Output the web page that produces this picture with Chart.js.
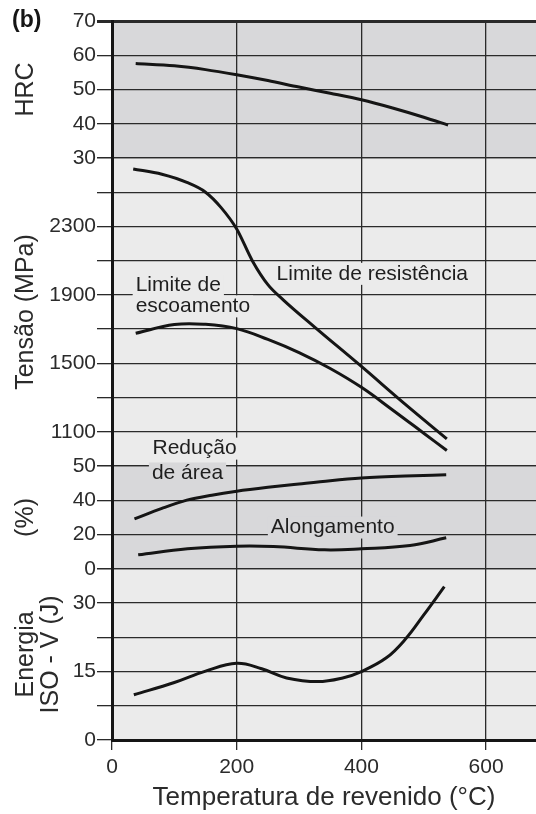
<!DOCTYPE html>
<html>
<head>
<meta charset="utf-8">
<script src="https://cdn.jsdelivr.net/npm/chart.js@4.4.1/dist/chart.umd.min.js"></script>
<style>
    html, body { margin: 0; padding: 0; background: #fff; }
    #chart { display: block; }
</style>
</head>
<body>
<canvas id="chart" width="536" height="814"></canvas>
<script>
// Temperatura de revenido (°C) per curve, and the read values
const hrcTemp = [38, 100, 150, 200, 250, 300, 350, 400, 450, 500, 539];
const hrcValues = [57.6, 56.9, 55.8, 54.3, 52.6, 50.7, 48.9, 47.0, 44.6, 41.9, 39.6];

const utsTemp = [34, 80, 120, 150, 175, 200, 225, 250, 275, 325, 400, 470, 537];
const utsValues = [2636, 2605, 2557, 2500, 2410, 2285, 2100, 1960, 1870, 1712, 1482, 1262, 1059];

const ysTemp = [38, 100, 150, 200, 250, 300, 350, 400, 450, 500, 537];
const ysValues = [1676, 1727, 1728, 1703, 1640, 1563, 1470, 1360, 1228, 1092, 991];

const raTemp = [36, 80, 120, 160, 200, 250, 300, 350, 400, 470, 536];
const raValues = [29.2, 35.3, 40.1, 43.0, 45.3, 47.6, 49.6, 51.5, 53.0, 54.2, 54.9];

const elTemp = [42, 121, 200, 259, 341, 400, 478, 536];
const elValues = [8.2, 11.7, 13.2, 13.0, 11.1, 11.7, 13.6, 18.1];

const energyTemp = [35, 100, 150, 200, 240, 280, 330, 370, 400, 440, 470, 500, 533];
const energyValues = [9.9, 12.6, 15.1, 16.8, 15.6, 13.6, 12.8, 13.6, 15.0, 18.0, 22.0, 27.4, 33.6];

// tick labels shown on each panel
const hrcTicks = [30, 40, 50, 60, 70];
const tensionTicks = [1100, 1500, 1900, 2300];
const pctTickLabels = ["0", "20", "40", "50"];
const energyTicks = [0, 15, 30];

const notes = [
    { text: "Limite de resistência", x: 264, y: 2023, axis: "yTension" },
    { text: "Limite de", x: 38, y: 1954, axis: "yTension" },
    { text: "escoamento", x: 38, y: 1833, axis: "yTension" },
    { text: "Redução", x: 65, y: 1002, axis: "yTension" },
    { text: "de área", x: 64, y: 55.7, axis: "yPct" },
    { text: "Alongamento", x: 354, y: 24.1, axis: "yPct", center: true }
];

const FONT = "'Liberation Sans', Arial, Helvetica, sans-serif";
const INK = "#151515";
const GRID = "#2a2a2a";
const panelFill = { yHrc: "#d8d8da", yTension: "#ebebeb", yPct: "#d8d8da", yEnergy: "#ebebeb" };

Chart.defaults.font.family = FONT;
Chart.defaults.color = "#2b2b2b";

const points = (xs, ys) => xs.map((x, i) => ({ x, y: ys[i] }));

function curve(data, axis, monotone) {
    return {
        data,
        yAxisID: axis,
        borderColor: INK,
        borderWidth: 3,
        pointRadius: 0,
        fill: false,
        tension: 0.4,
        cubicInterpolationMode: monotone ? "monotone" : "default"
    };
}

function axisTitle(text) {
    return {
        display: true,
        text,
        font: { size: 25, lineHeight: 1 },
        color: "#2b2b2b",
        padding: { top: 14, bottom: 0 }
    };
}

function panelAxis(opts) {
    return Object.assign({
        type: "linear",
        position: "left",
        stack: "panels",
        offset: false,
        afterFit: s => { s.width = 112; },
        border: { display: true, color: INK, width: 3 },
        grid: { color: GRID, lineWidth: 1.3, tickLength: 15, drawTicks: true }
    }, opts);
}

const paperPlugin = {
    id: "paper",
    beforeDraw(chart) {
        const { ctx, chartArea } = chart;
        ctx.save();
        ctx.fillStyle = "#fff";
        ctx.fillRect(0, 0, chart.width, chart.height);
        Object.keys(panelFill).forEach(id => {
            const s = chart.scales[id];
            ctx.fillStyle = panelFill[id];
            ctx.fillRect(chartArea.left, s.top, chartArea.right - chartArea.left, s.bottom - s.top);
        });
        ctx.fillStyle = INK;
        ctx.font = "bold 23px " + FONT;
        ctx.textBaseline = "middle";
        ctx.fillText("(b)", 12, 21);
        ctx.restore();
    },
    beforeDatasetsDraw(chart) {
        const { ctx, scales } = chart;
        ctx.save();
        ctx.font = "21px " + FONT;
        ctx.textBaseline = "middle";
        notes.forEach(n => {
            const px = scales.x.getPixelForValue(n.x);
            const py = scales[n.axis].getPixelForValue(n.y);
            const w = ctx.measureText(n.text).width;
            const left = n.center ? px - w / 2 : px;
            const panel = Object.keys(panelFill).find(id => py >= scales[id].top && py < scales[id].bottom) || n.axis;
            ctx.fillStyle = panelFill[panel];
            ctx.fillRect(left - 3, py - 11, w + 6, 22);
            ctx.fillStyle = "#1e1e1e";
            ctx.fillText(n.text, left, py);
        });
        ctx.restore();
    }
};

new Chart(document.getElementById("chart"), {
    type: "line",
    data: {
        datasets: [
            curve(points(hrcTemp, hrcValues), "yHrc", true),
            curve(points(utsTemp, utsValues), "yTension", true),
            curve(points(ysTemp, ysValues), "yTension", false),
            curve(points(raTemp, raValues), "yPct", true),
            curve(points(elTemp, elValues), "yPct", false),
            curve(points(energyTemp, energyValues), "yEnergy", false)
        ]
    },
    options: {
        responsive: false,
        animation: false,
        layout: { padding: { top: 21, left: 0, right: 0, bottom: 0 } },
        plugins: { legend: { display: false }, tooltip: { enabled: false } },
        scales: {
            x: {
                type: "linear",
                min: 0,
                max: 680,
                afterFit: s => { s.height = 74; },
                border: { display: true, color: INK, width: 3 },
                grid: { color: GRID, lineWidth: 1.3, tickLength: 10 },
                ticks: { stepSize: 200, includeBounds: false, padding: 5, font: { size: 21 } },
                title: {
                    display: true,
                    text: "Temperatura de revenido (°C)",
                    font: { size: 26 },
                    color: "#2b2b2b",
                    padding: { top: 0, bottom: 1 }
                }
            },
            yEnergy: panelAxis({
                min: 0, max: 37.5, stackWeight: 5,
                ticks: { stepSize: 7.5, autoSkip: false, padding: 1, font: { size: 21 },
                    callback: v => energyTicks.includes(v) ? v : "" },
                title: axisTitle(["Energia", "ISO - V (J)"])
            }),
            yPct: panelAxis({
                min: 0, max: 60, stackWeight: 3,
                ticks: { stepSize: 20, autoSkip: false, padding: 1, font: { size: 21 },
                    callback: (v, i) => pctTickLabels[i] },
                title: axisTitle("(%)")
            }),
            yTension: panelAxis({
                min: 900, max: 2700, stackWeight: 9,
                ticks: { stepSize: 200, autoSkip: false, padding: 1, font: { size: 21 },
                    callback: v => tensionTicks.includes(v) ? v : "" },
                title: axisTitle("Tensão (MPa)")
            }),
            yHrc: panelAxis({
                min: 30, max: 70, stackWeight: 4,
                grid: { color: GRID, tickLength: 15, lineWidth: c => (c.tick && c.tick.value === 70) ? 3 : 1.3 },
                ticks: { stepSize: 10, autoSkip: false, padding: 1, font: { size: 21 },
                    callback: v => hrcTicks.includes(v) ? v : "" },
                title: axisTitle("HRC")
            })
        }
    },
    plugins: [paperPlugin]
});
</script>
</body>
</html>
